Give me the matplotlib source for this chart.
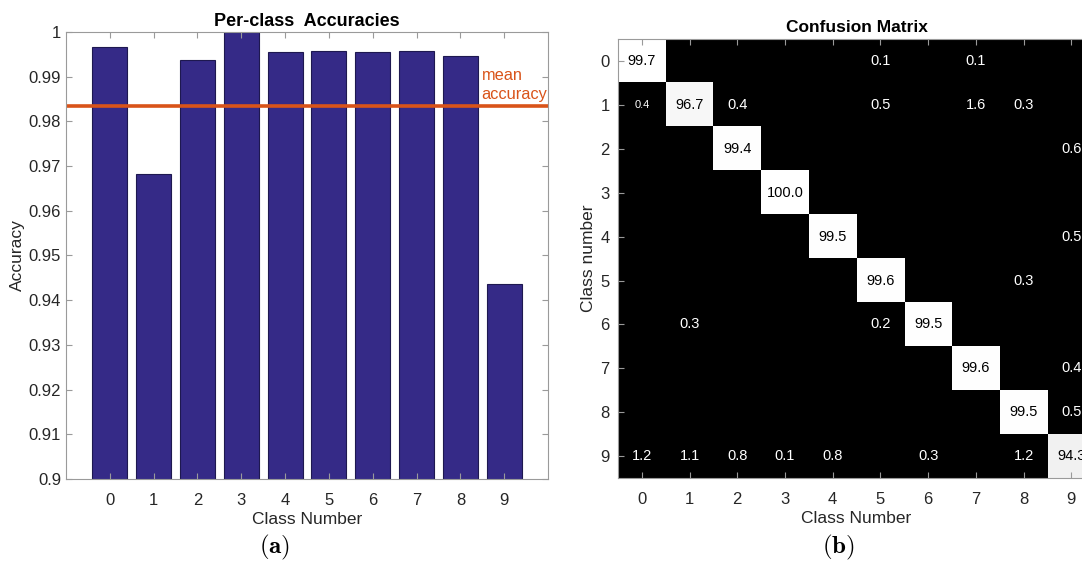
import numpy as np
import matplotlib
matplotlib.use("Agg")
import matplotlib.pyplot as plt

plt.rcParams['font.family'] = ['Liberation Sans', 'DejaVu Sans']
plt.rcParams['mathtext.fontset'] = 'cm'

# per-class accuracies (left)
classes = [0, 1, 2, 3, 4, 5, 6, 7, 8, 9]
accuracies = [0.9967, 0.9682, 0.9938, 1.0, 0.9955, 0.9957, 0.9955, 0.9958, 0.9947, 0.9436]
mean_acc = 0.9834
yticks = [0.9, 0.91, 0.92, 0.93, 0.94, 0.95, 0.96, 0.97, 0.98, 0.99, 1.0]

# confusion matrix in percent (right), rows = true class
conf = np.array([
    [99.7, 0, 0, 0, 0, 0.1, 0, 0.1, 0, 0],
    [0.4, 96.7, 0.4, 0, 0, 0.5, 0, 1.6, 0.3, 0],
    [0, 0, 99.4, 0, 0, 0, 0, 0, 0, 0.6],
    [0, 0, 0, 100.0, 0, 0, 0, 0, 0, 0],
    [0, 0, 0, 0, 99.5, 0, 0, 0, 0, 0.5],
    [0, 0, 0, 0, 0, 99.6, 0, 0, 0.3, 0],
    [0, 0.3, 0, 0, 0, 0.2, 99.5, 0, 0, 0],
    [0, 0, 0, 0, 0, 0, 0, 99.6, 0, 0.4],
    [0, 0, 0, 0, 0, 0, 0, 0, 99.5, 0.5],
    [1.2, 1.1, 0.8, 0.1, 0.8, 0, 0.3, 0, 1.2, 94.3],
])

axcol = '#9a9a9a'
txtcol = '#262626'

fig = plt.figure(figsize=(10.82, 5.63), dpi=100)

# ---- (a) bar chart
ax1 = fig.add_axes([0.061, 0.1492, 0.4455, 0.794])
ax1.bar(classes, accuracies, width=0.8, color='#352a87', edgecolor='#1e1850', linewidth=0.8)
ax1.axhline(mean_acc, color='#d95319', lw=2.6)
ax1.text(8.48, 0.9882, 'mean\naccuracy', color='#d95319', fontsize=11.8,
         va='center', ha='left', linespacing=1.35, clip_on=False)
ax1.set_xlim(-1, 10)
ax1.set_ylim(0.9, 1.0)
ax1.set_xticks(classes)
ax1.set_yticks(yticks)
ax1.set_yticklabels(['%g' % v for v in yticks])
ax1.set_title('Per-class  Accuracies', fontsize=13, fontweight='bold', pad=4)
ax1.set_xlabel('Class Number', fontsize=12.5, color=txtcol, labelpad=3)
ax1.set_ylabel('Accuracy', fontsize=12.5, color=txtcol, labelpad=3)
ax1.tick_params(direction='in', length=4, color=axcol, labelcolor=txtcol,
                labelsize=12, top=True, right=True)
ax1.tick_params(axis='x', pad=10)
for s in ax1.spines.values():
    s.set_color(axcol)

# ---- (b) confusion matrix
ax2 = fig.add_axes([0.5712, 0.1504, 0.4409, 0.7808])
ax2.imshow(conf, cmap='gray', vmin=2, vmax=100, aspect='auto', interpolation='nearest')
for i in range(conf.shape[0]):
    for j in range(conf.shape[1]):
        v = conf[i, j]
        if v == 0:
            continue
        fs = 8 if (i == 1 and j == 0) else 10.5
        ax2.text(j, i, '%.1f' % v, ha='center', va='center', fontsize=fs,
                 color='black' if v > 50 else 'white')
ax2.set_xticks(classes)
ax2.set_yticks(classes)
ax2.set_title('Confusion Matrix', fontsize=12.5, fontweight='bold', pad=5)
ax2.set_xlabel('Class Number', fontsize=12.5, color=txtcol, labelpad=3)
ax2.set_ylabel('Class number', fontsize=12.5, color=txtcol, labelpad=3)
ax2.tick_params(direction='in', length=4, color=axcol, labelcolor=txtcol,
                labelsize=12, top=True, right=True)
ax2.tick_params(axis='x', pad=10)
ax2.tick_params(axis='y', pad=6)
for s in ax2.spines.values():
    s.set_color(axcol)

fig.text(275 / 1082, 1 - 547 / 563, r'$\mathbf{(a)}$', fontsize=18, ha='center', va='center')
fig.text(838 / 1082, 1 - 547 / 563, r'$\mathbf{(b)}$', fontsize=18, ha='center', va='center')

fig.savefig('out.png', dpi=100)
